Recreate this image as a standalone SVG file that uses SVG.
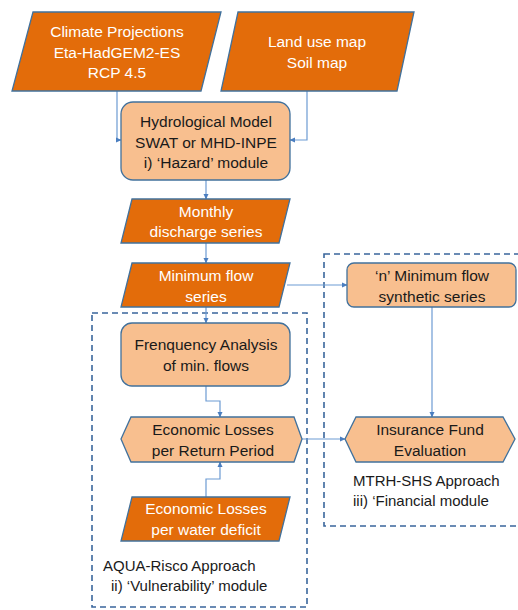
<svg xmlns="http://www.w3.org/2000/svg" width="518" height="610" viewBox="0 0 518 610">
<style>
.dk{fill:#E36C0A;stroke:#41719C;stroke-width:1.3}
.lt{fill:#F8BF8F;stroke:#41719C;stroke-width:1.3}
.wt{fill:#FFFFFF;font-family:"Liberation Sans",Arial,sans-serif;font-size:15.5px;text-anchor:middle}
.bk{fill:#1A1A1A;font-family:"Liberation Sans",Arial,sans-serif;font-size:15.5px;text-anchor:middle}
.lb{fill:#1A1A1A;font-family:"Liberation Sans",Arial,sans-serif;font-size:15px}
.cn{fill:none;stroke:#6D9BD3;stroke-width:1.2}
.ds{fill:none;stroke:#3A669C;stroke-width:1.6;stroke-dasharray:6,4}
</style>
<defs>
<marker id="ah" markerWidth="6" markerHeight="6" refX="5" refY="3" orient="auto" markerUnits="userSpaceOnUse">
<path d="M0,0.5 L5.5,3 L0,5.5 Z" fill="#4A7EC0"/>
</marker>
</defs>
<rect width="518" height="610" fill="#FFFFFF"/>
<g id="groups">
<rect class="ds" x="92" y="313" width="215" height="294"/>
<rect class="ds" x="324" y="254" width="200" height="272"/>
</g>
<g id="connectors">
<path class="cn" d="M117,91 V140 H121" marker-end="url(#ah)"/>
<path class="cn" d="M307,91 V140 H290" marker-end="url(#ah)"/>
<path class="cn" d="M206,180 V199" marker-end="url(#ah)"/>
<path class="cn" d="M206,243 V263" marker-end="url(#ah)"/>
<path class="cn" d="M287,285 H347" marker-end="url(#ah)"/>
<path class="cn" d="M206,307 V323" marker-end="url(#ah)"/>
<path class="cn" d="M206,386 V401 H220 V417" marker-end="url(#ah)"/>
<path class="cn" d="M206,497 V479 H220 V462" marker-end="url(#ah)"/>
<path class="cn" d="M302,439 H345" marker-end="url(#ah)"/>
<path class="cn" d="M432,307 V417" marker-end="url(#ah)"/>
</g>
<g id="climate">
<polygon class="dk" points="33,12 221,12 201,91 12,91"/>
<text class="wt" x="117" y="37">Climate Projections</text>
<text class="wt" x="117" y="58">Eta-HadGEM2-ES</text>
<text class="wt" x="117" y="78">RCP 4.5</text>
</g>
<g id="landuse">
<polygon class="dk" points="238,12 414,12 397,91 221,91"/>
<text class="wt" x="317" y="47">Land use map</text>
<text class="wt" x="317" y="68">Soil map</text>
</g>
<g id="hydro">
<rect class="lt" x="121" y="102" width="169" height="78" rx="12"/>
<text class="bk" x="206" y="127">Hydrological Model</text>
<text class="bk" x="206" y="148">SWAT or MHD-INPE</text>
<text class="bk" x="206" y="168">i) ‘Hazard’ module</text>
</g>
<g id="monthly">
<polygon class="dk" points="132,199 290,199 279,243 121,243"/>
<text class="wt" x="206" y="217">Monthly</text>
<text class="wt" x="206" y="237">discharge series</text>
</g>
<g id="minflow">
<polygon class="dk" points="132,263 290,263 279,307 121,307"/>
<text class="wt" x="206" y="281">Minimum flow</text>
<text class="wt" x="206" y="302">series</text>
</g>
<g id="synthetic">
<rect class="lt" x="347" y="263" width="169" height="44" rx="7"/>
<text class="bk" x="432" y="281">‘n’ Minimum flow</text>
<text class="bk" x="432" y="302">synthetic series</text>
</g>
<g id="frequency">
<rect class="lt" x="121" y="323" width="169" height="63" rx="11"/>
<text class="bk" x="206" y="350">Frenquency Analysis</text>
<text class="bk" x="206" y="371">of min. flows</text>
</g>
<g id="losses">
<polygon class="lt" points="121,439 131,417 294,417 302,439 294,462 131,462"/>
<text class="bk" x="213" y="435">Economic Losses</text>
<text class="bk" x="213" y="456">per Return Period</text>
</g>
<g id="deficit">
<polygon class="dk" points="132,497 290,497 279,541 121,541"/>
<text class="wt" x="206" y="514">Economic Losses</text>
<text class="wt" x="206" y="535">per water deficit</text>
</g>
<g id="insurance">
<polygon class="lt" points="345,439 356,417 503,417 515,439 503,462 356,462"/>
<text class="bk" x="430" y="435">Insurance Fund</text>
<text class="bk" x="430" y="456">Evaluation</text>
</g>
<g id="labels">
<text class="lb" x="353" y="486">MTRH-SHS Approach</text>
<text class="lb" x="353" y="506">iii) ‘Financial module</text>
<text class="lb" x="103" y="571">AQUA-Risco Approach</text>
<text class="lb" x="111" y="591">ii) ‘Vulnerability’ module</text>
</g>
</svg>
